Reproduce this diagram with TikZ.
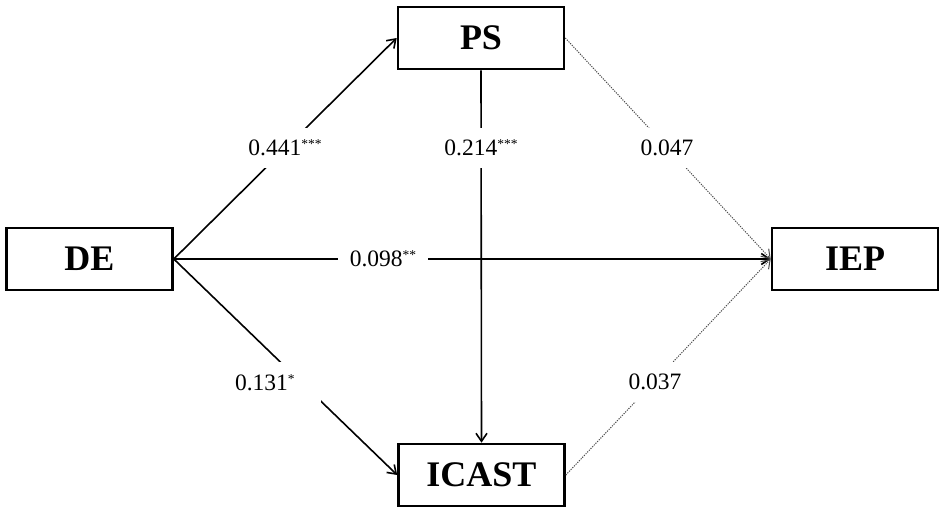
\documentclass[tikz,border=0pt]{standalone}
\usepackage{fontspec}
\setmainfont{Liberation Serif}
\usetikzlibrary{arrows.meta}
\tikzset{
  box/.style={draw=black, line width=2.6pt, fill=white, minimum width=166pt, minimum height=62pt, inner sep=0pt, font=\fontsize{36}{36}\selectfont\bfseries},
  path/.style={draw=black, line width=1.6pt, -{Straight Barb[length=8pt,width=11pt,line width=1.6pt]}},
  weak/.style={draw=black!70, line width=1pt, dash pattern=on 1.2pt off 1.2pt, -{Straight Barb[length=8pt,width=11pt,line width=1pt]}},
  lbl/.style={fill=white, inner xsep=2pt, inner ysep=0pt, minimum height=40pt, font=\fontsize{23.5}{23.5}\selectfont},
}
\newcommand{\stars}[1]{\raisebox{6.8pt}{\fontsize{13.5}{13.5}\selectfont #1}}
\begin{document}
\begin{tikzpicture}[x=1pt,y=-1pt]
\useasboundingbox[fill=white] (0,0) rectangle (945,514);
\node[box] (PS) at (481,38) {PS};
\node[box] (DE) at (89.5,259) {DE};
\node[box] (ICAST) at (481.5,475) {ICAST};
\node[box] (IEP) at (855,259) {IEP};

\draw[path] (DE.east) -- (PS.west);
\draw[path] (DE.east) -- (ICAST.west);
\draw[path] (DE.east) -- (IEP.west);
\draw[path] (PS.south) -- (ICAST.north);
\draw[weak] (PS.east) -- (IEP.west);
\draw[weak] (ICAST.east) -- (IEP.west);

\node[lbl] (l1) at (285,148) {0.441\stars{***}};
\node[lbl] (l2) at (481,148) {0.214\stars{***}};
\node[lbl] (l3) at (667,148) {0.047};
\node[lbl, inner xsep=12pt] (l4) at (383,259) {0.098\stars{**}};
\node[lbl, text width=76pt, inner xsep=10pt, align=left, minimum height=41pt] (l5) at (273,382.5) {0.131\stars{*}};
\node[lbl] (l6) at (655,382) {0.037};
\end{tikzpicture}
\end{document}
